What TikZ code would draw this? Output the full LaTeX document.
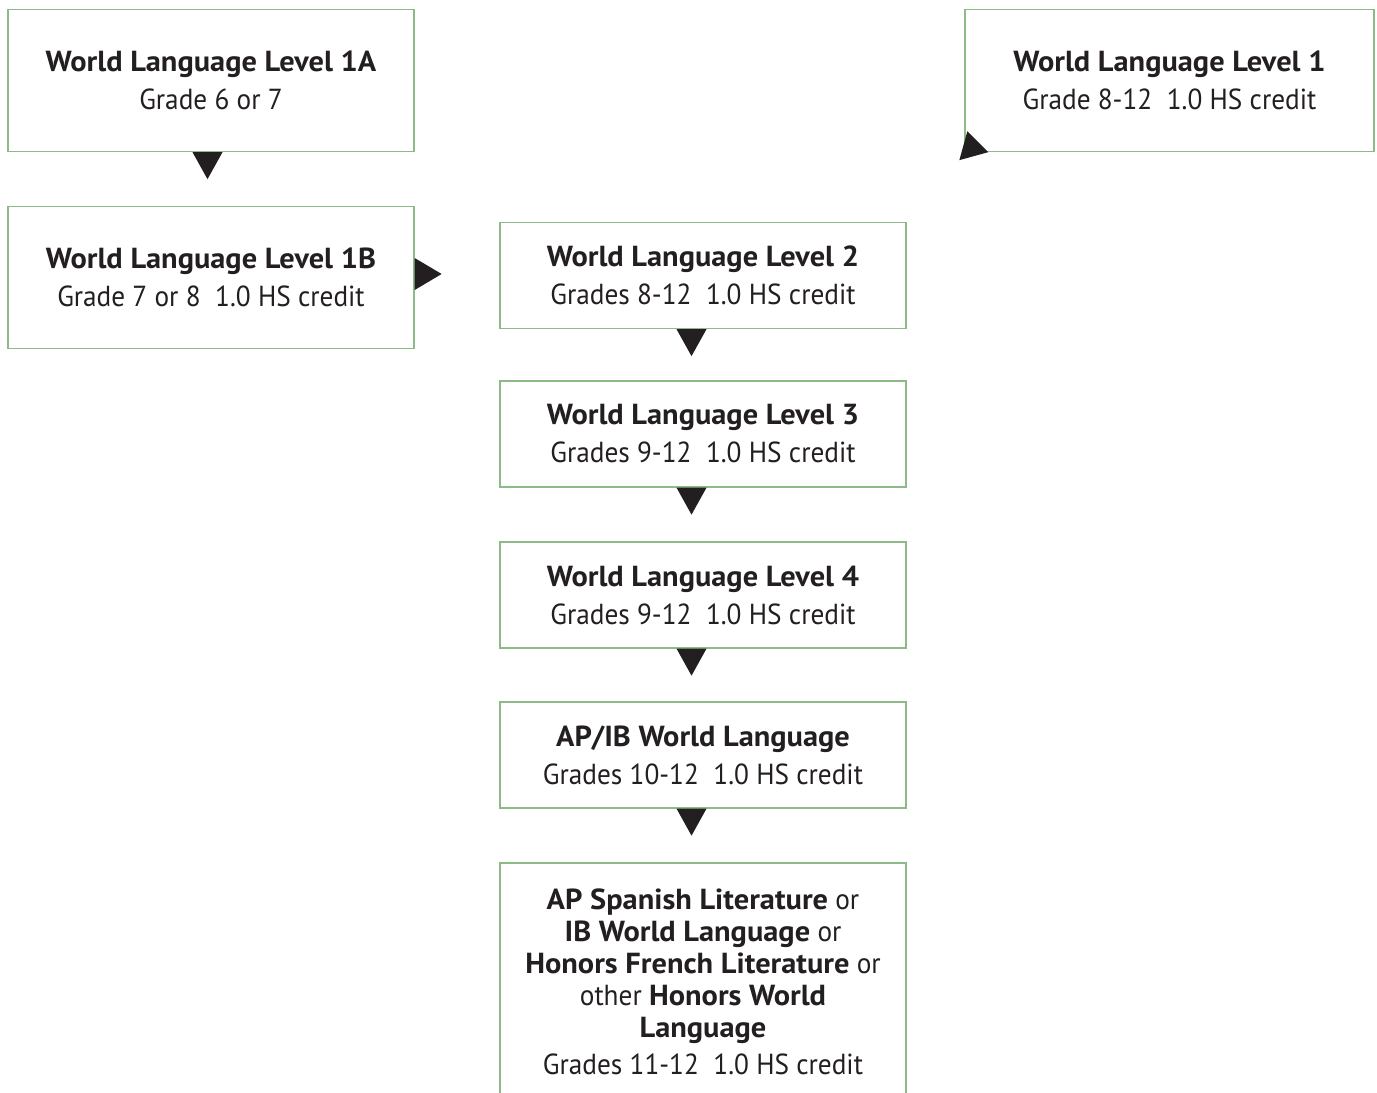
\documentclass[tikz,border=0pt]{standalone}
\usepackage{fontspec}
\setmainfont{PT Sans}[FakeStretch=0.94, BoldFeatures={FakeStretch=1.048}]
\definecolor{boxgreen}{HTML}{8DBB87}
\definecolor{txt}{HTML}{231F20}
\begin{document}
\begin{tikzpicture}[x=1pt,y=-1pt]
\tikzset{
  box/.style={draw=boxgreen, line width=1.3pt, minimum width=406pt, minimum height=106pt,
    align=center, inner sep=0pt, text=txt, font=\fontsize{29}{38}\selectfont},
  tall/.style={minimum height=142pt},
  tri/.style={fill=txt, draw=none}
}
\useasboundingbox[fill=white] (0,0) rectangle (1377,1093);
\clip (0,0) rectangle (1377,1093);
\node[box,tall] (a) at (211,80.5) {\textbf{World Language Level 1A}\\Grade 6 or 7};
\node[box,tall] (b) at (211,277.5) {\textbf{World Language Level 1B}\\Grade 7 or 8\ \ 1.0 HS credit};
\node[box,tall,minimum width=409pt] (l1) at (1169.5,80.5) {\textbf{World Language Level 1}\\Grade 8-12\ \ 1.0 HS credit};
\node[box] (l2) at (703,275.5) {\textbf{World Language Level 2}\\Grades 8-12\ \ 1.0 HS credit};
\node[box] (l3) at (703,434) {\textbf{World Language Level 3}\\Grades 9-12\ \ 1.0 HS credit};
\node[box] (l4) at (703,595) {\textbf{World Language Level 4}\\Grades 9-12\ \ 1.0 HS credit};
\node[box] (ap) at (703,755) {\textbf{AP/IB World Language}\\Grades 10-12\ \ 1.0 HS credit};
\node[box,minimum height=237pt,font=\fontsize{29}{32}\selectfont] (hon) at (703,981.5)
  {\textbf{AP Spanish Literature} or\\\textbf{IB World Language} or\\\textbf{Honors French Literature} or\\other \textbf{Honors World}\\\textbf{Language}\\[5pt]Grades 11-12\ \ 1.0 HS credit};
% arrowheads
\fill[tri] (a.south) ++(-18.5,0) -- ++(30,0) -- ++(-15,27) -- cycle;
\fill[tri] (b.east) ++(0,-19.5) -- ++(0,32) -- ++(27,-16) -- cycle;
\fill[tri] (l1.south west) ++(3,-21) -- ++(21,21) -- ++(-29,8) -- cycle;
\fill[tri] (l2.south) ++(-26.5,0) -- ++(30,0) -- ++(-15,27) -- cycle;
\fill[tri] (l3.south) ++(-26.5,0) -- ++(30,0) -- ++(-15,27) -- cycle;
\fill[tri] (l4.south) ++(-26.5,0) -- ++(30,0) -- ++(-15,27) -- cycle;
\fill[tri] (ap.south) ++(-26.5,0) -- ++(30,0) -- ++(-15,27) -- cycle;
\end{tikzpicture}
\end{document}
